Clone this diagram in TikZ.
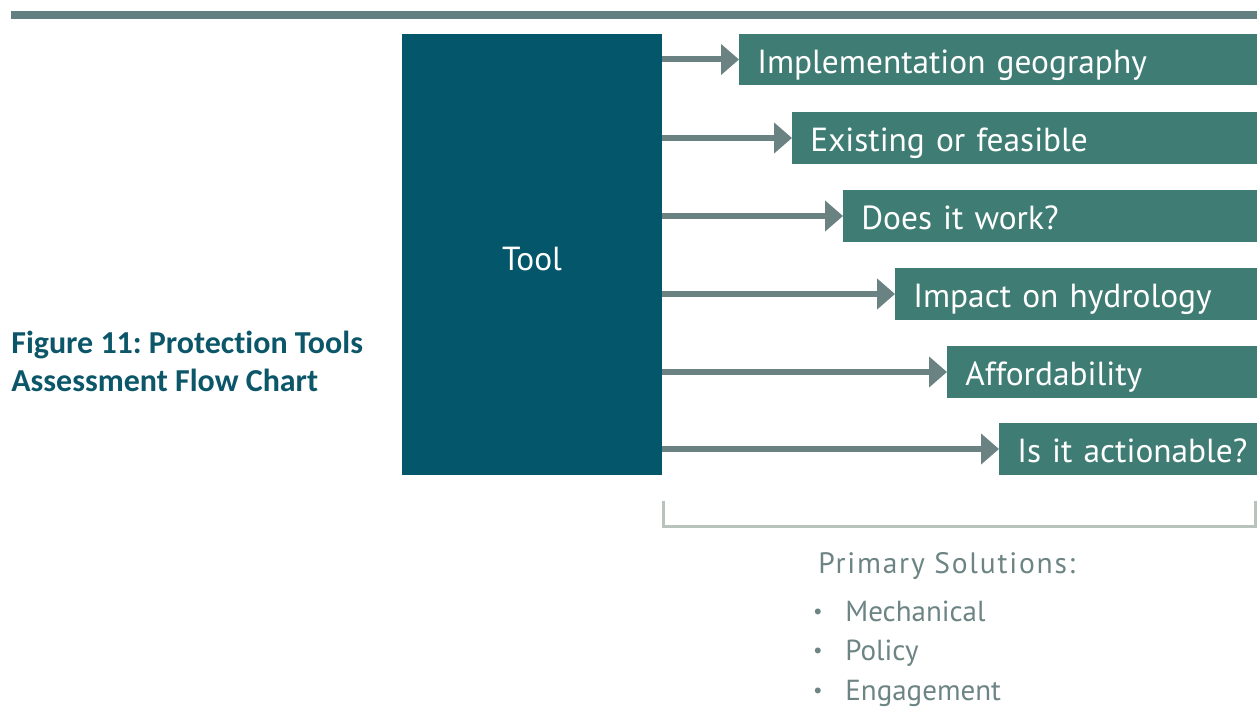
\documentclass[tikz,border=0pt]{standalone}
\usepackage{fontspec}
\setmainfont{PT Sans}
\newfontfamily\figfont[Ligatures=NoCommon]{Carlito}
\usetikzlibrary{positioning, arrows.meta, calc}

\definecolor{bargray}{HTML}{647F80}
\definecolor{toolteal}{HTML}{04566A}
\definecolor{askgreen}{HTML}{3F7D74}
\definecolor{arrowgray}{HTML}{6A8282}
\definecolor{bracketgray}{HTML}{B7C3BB}
\definecolor{solgray}{HTML}{6C8483}
\definecolor{figteal}{HTML}{0B5669}

\frenchspacing

\begin{document}
\begin{tikzpicture}[
    x=0.02cm, y=-0.02cm,
    tool/.style={rectangle, fill=toolteal, minimum width=5.2cm, inner ysep=0pt, text height=4.74cm, text depth=4.08cm, text=white, font=\fontsize{19}{22}\selectfont},
    question/.style={rectangle, fill=askgreen, anchor=west, inner xsep=0.36cm, inner ysep=0pt, text height=0.8cm, text depth=0.24cm, align=left, text=white, font=\fontsize{19}{22}\selectfont},
    arrow/.style={-{Triangle[length=0.36cm, width=0.6cm]}, line width=0.12cm, draw=arrowgray},
    solution/.style={anchor=base west, inner sep=0pt, text=solgray, font=\fontsize{16.5}{19}\selectfont}
]
\useasboundingbox (0,0) rectangle (1257,719);

% rule across the top
\fill[bargray] (11,11) rectangle (1257,19);

% caption (base anchor sits on the last line)
\node[anchor=base west, inner sep=0pt, align=left, text=figteal, font=\figfont\bfseries\fontsize{18.2}{21.5}\selectfont] (caption) at (11,391) {Figure 11: Protection Tools\\Assessment Flow Chart};

\node[tool] (tool) at (532,254.5) {Tool};

% the six questions, each fed by an arrow from the tool
\foreach \lx/\cy/\nm/\txt in {739/59.5/geo/Implementation geography,
                              792/138/feasible/Existing or feasible,
                              843/216/works/Does it work?,
                              895/294/hydro/Impact on hydrology,
                              947/372/afford/Affordability,
                              999/449/action/Is it actionable?} {
  \pgfmathsetmacro{\tw}{(1257-\lx-36)*0.02}
  \node[question, text width=\tw cm] (\nm) at (\lx,\cy) {\mbox{\txt}};
  \draw[arrow] (tool.east |- \nm.west) -- (\nm.west);
}

% bracket under the questions
\draw[bracketgray, line width=0.06cm] (663,501) -- (663,526.5) -- (1255.5,526.5) -- (1255.5,501);

\node[solution, font=\addfontfeature{LetterSpace=6}\fontsize{16.8}{19}\selectfont] (primary) at (818,573) {Primary Solutions:};
\foreach \cy/\nm/\txt in {621/mech/Mechanical, 660/policy/Policy, 700/engage/Engagement} {
  \node[solution] (\nm) at (845,\cy) {\txt};
  \node[solution, anchor=base, font=\fontsize{12}{12}\selectfont] (\nm-dot) at (818,\cy-3) {•};
}
\end{tikzpicture}
\end{document}
